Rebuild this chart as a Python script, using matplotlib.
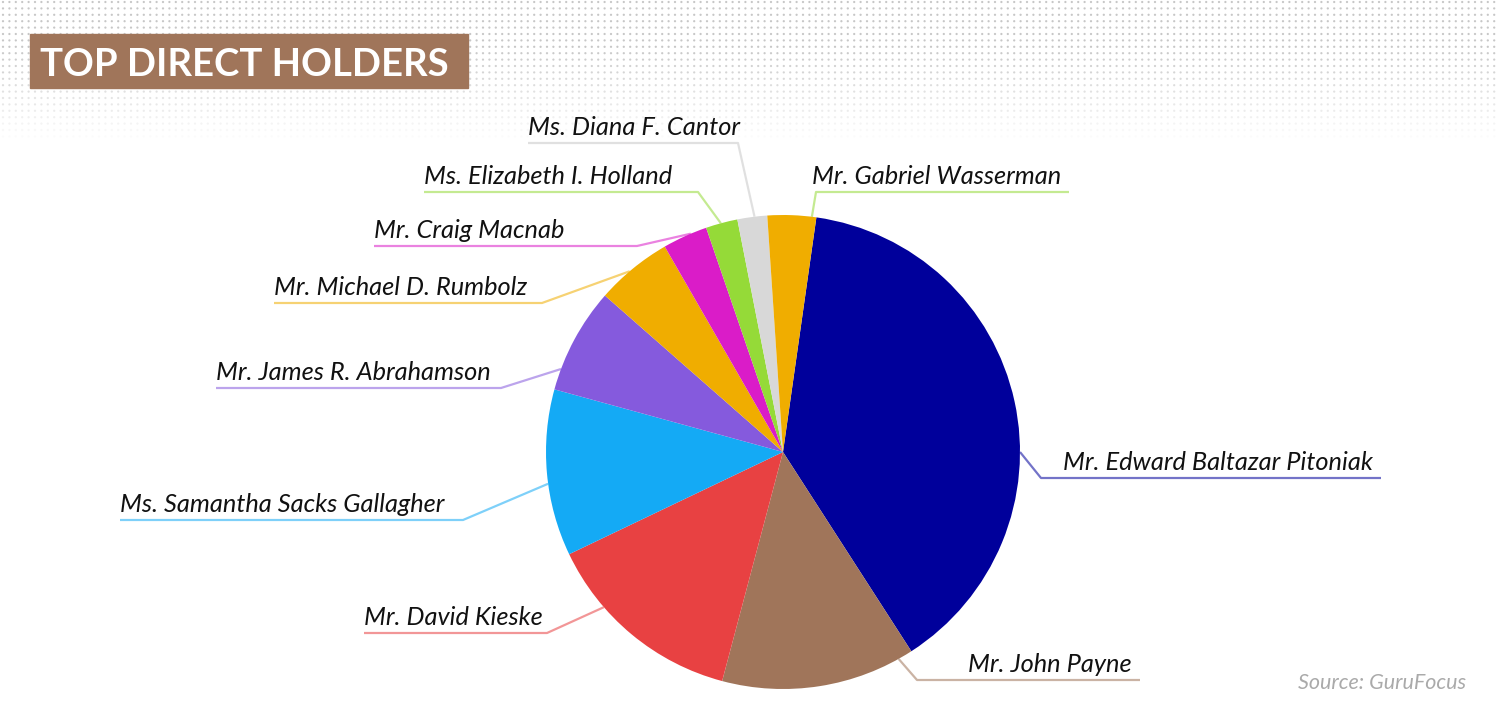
import numpy as np
import matplotlib
matplotlib.use("Agg")
import matplotlib.pyplot as plt
from matplotlib.patches import Rectangle

# data: clockwise order starting from the biggest slice
holders = [
    "Mr. Edward Baltazar Pitoniak",
    "Mr. John Payne",
    "Mr. David Kieske",
    "Ms. Samantha Sacks Gallagher",
    "Mr. James R. Abrahamson",
    "Mr. Michael D. Rumbolz",
    "Mr. Craig Macnab",
    "Ms. Elizabeth I. Holland",
    "Ms. Diana F. Cantor",
    "Mr. Gabriel Wasserman",
]
shares = [38.67, 13.25, 13.78, 11.36, 7.22, 5.22, 3.06, 2.17, 2.03, 3.31]
colors = ["#00009B", "#A0755A", "#E84142", "#14AAF5", "#855ADD",
          "#F0AD00", "#DA1CC8", "#95DA38", "#D8D8D8", "#F0AD00"]
leader_colors = ["#00009B", "#A0755A", "#E84142", "#14AAF5", "#855ADD",
                 "#F0AD00", "#DA1CC8", "#95DA38", "#C8C8C8", "#95DA38"]

# label layout (image pixels, y measured from top)
# angle on the rim (deg clockwise from 12 o'clock), elbow x, line y, far x
label_angle = [90, 150.8, 229.1, 262.3, 290.5, 319.7, 337.1, 344.8, 353.1, 7]
elbow_x = [1041, 917, 547, 463, 501, 542, 637, 698, 738, 816]
line_y = [478, 680, 633, 520, 388, 303, 246, 192, 143, 192]
far_x = [1381, 1140, 364, 120, 216, 274, 374, 424, 528, 1069]

W, H = 1500, 716
cx, cy, R = 783, 452, 237

fig = plt.figure(figsize=(15, 7.16), dpi=100)
ax = fig.add_axes([0, 0, 1, 1])

# dotted background at the top
gx = np.arange(3, W, 6.4)
gy = np.arange(2, 145, 6.4)
XX, YY = np.meshgrid(gx, gy)
fade = np.clip((142 - YY) / 95.0, 0, 1)
dot_cols = np.zeros((XX.size, 4))
dot_cols[:, :3] = 0.74
dot_cols[:, 3] = fade.ravel() * 0.85
ax.scatter(XX.ravel(), H - YY.ravel(), s=2.6, c=dot_cols, linewidths=0, zorder=0)

# pie
start = 90 - 8.1
ax.pie(shares, colors=colors, center=(cx, H - cy), radius=R,
       startangle=start, counterclock=False,
       wedgeprops=dict(linewidth=0, zorder=2))

# leader lines + labels
for name, lc, a, ex, ly, fx in zip(holders, leader_colors, label_angle,
                                   elbow_x, line_y, far_x):
    t = np.deg2rad(a)
    px = cx + R * np.sin(t)
    py = (H - cy) + R * np.cos(t)
    ax.plot([px, ex, fx], [py, H - ly, H - ly], color=lc, alpha=0.55,
            lw=1.6, solid_capstyle="butt", zorder=1)
    if fx > ex:
        ax.text(fx - 8, H - ly + 8, name, ha="right", va="baseline",
                fontsize=18.3, family="Lato", style="italic", color="#111111")
    else:
        ax.text(fx, H - ly + 8, name, ha="left", va="baseline",
                fontsize=18.3, family="Lato", style="italic", color="#111111")

# title box
ax.add_patch(Rectangle((30, H - 88), 438, 54, color="#A0755A", zorder=3))
ax.text(40, H - 76, "TOP DIRECT HOLDERS", ha="left", va="baseline",
        fontsize=27.5, family="Lato", weight="bold", color="white", zorder=4)

ax.text(1466, H - 689, "Source: GuruFocus", ha="right", va="baseline",
        fontsize=15.5, family="Lato", style="italic", color="#AAAAAA")

ax.set_xlim(0, W)
ax.set_ylim(0, H)
ax.set_axis_off()

fig.savefig("out.png", dpi=100, facecolor="white")
